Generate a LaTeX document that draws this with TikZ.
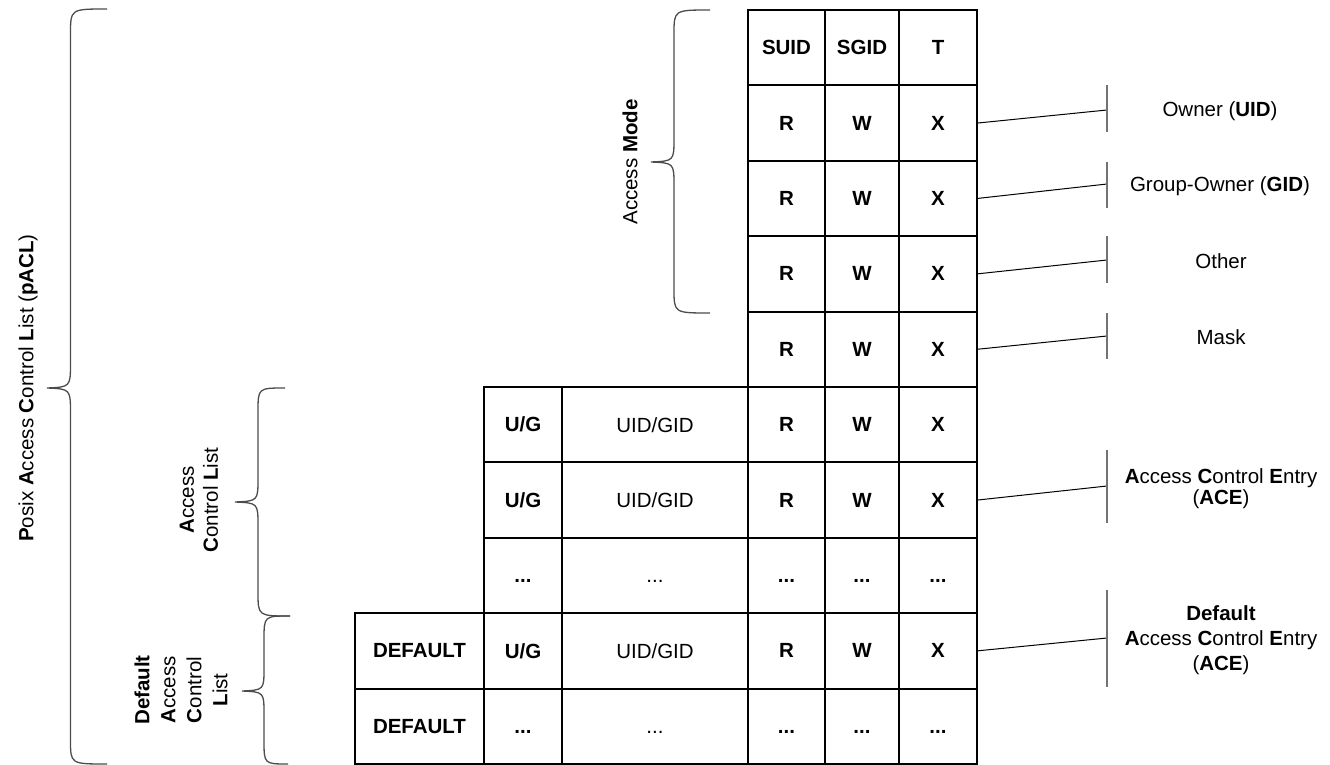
\documentclass[tikz,border=0pt]{standalone}
\usepackage{fontspec}
\setmainfont{Liberation Sans}
\newcommand\tdots{\vphantom{R}...}
\begin{document}
\begin{tikzpicture}[x=1pt,y=-1pt,
  cell/.style={draw, line width=2pt, inner sep=0pt, outer sep=0pt,
    minimum height=75.4pt, font=\fontsize{20.5}{24}\selectfont\bfseries},
  normtxt/.style={font=\fontsize{20.5}{24}\selectfont},
  cD/.style={minimum width=129pt},
  cU/.style={minimum width=78pt},
  cI/.style={minimum width=186pt},
  cR/.style={minimum width=77pt},
  cW/.style={minimum width=74pt},
  cX/.style={minimum width=78pt},
  conn/.style={line width=1pt, black},
  tickline/.style={line width=1.4pt, black!55},
  bracepath/.style={line width=1.3pt, black!70},
  lab/.style={inner sep=0pt, align=center, font=\fontsize{20.5}{24}\selectfont},
]
\useasboundingbox (0,0) rectangle (1330,765);

% R W X columns
\foreach \r/\a/\b/\c in {0/SUID/SGID/T, 1/R/W/X, 2/R/W/X, 3/R/W/X, 4/R/W/X,
   5/R/W/X, 6/R/W/X, 7/\tdots/\tdots/\tdots, 8/R/W/X, 9/\tdots/\tdots/\tdots} {
  \node[cell,cR] (R\r) at (786.5,{10+75.4*(\r+0.5)}) {\a};
  \node[cell,cW] (W\r) at (862,{10+75.4*(\r+0.5)}) {\b};
  \node[cell,cX] (X\r) at (938,{10+75.4*(\r+0.5)}) {\c};
}
% U/G column
\node[cell,cU] (U5) at (523,{10+75.4*5.5}) {U/G};
\node[cell,cU] (U6) at (523,{10+75.4*6.5}) {U/G};
\node[cell,cU] (U7) at (523,{10+75.4*7.5}) {\tdots};
\node[cell,cU] (U8) at (523,{10+75.4*8.5}) {U/G};
\node[cell,cU] (U9) at (523,{10+75.4*9.5}) {\tdots};
% UID/GID column
\node[cell,cI,normtxt] (I5) at (655,{10+75.4*5.5}) {UID/GID};
\node[cell,cI,normtxt] (I6) at (655,{10+75.4*6.5}) {UID/GID};
\node[cell,cI,normtxt] (I7) at (655,{10+75.4*7.5}) {\tdots};
\node[cell,cI,normtxt] (I8) at (655,{10+75.4*8.5}) {UID/GID};
\node[cell,cI,normtxt] (I9) at (655,{10+75.4*9.5}) {\tdots};
% DEFAULT column
\node[cell,cD] (D8) at (419.5,{10+75.4*8.5}) {DEFAULT};
\node[cell,cD] (D9) at (419.5,{10+75.4*9.5}) {DEFAULT};

% connector end points and ticks
\coordinate (e1) at (1107,110);
\coordinate (e2) at (1107,184);
\coordinate (e3) at (1107,260);
\coordinate (e4) at (1107,336);
\coordinate (e6) at (1107,486);
\coordinate (e8) at (1107,638);
\draw[conn] (X1.east) -- (e1);
\draw[conn] (X2.east) -- (e2);
\draw[conn] (X3.east) -- (e3);
\draw[conn] (X4.east) -- (e4);
\draw[conn] (X6.east) -- (e6);
\draw[conn] (X8.east) -- (e8);
\draw[tickline] (1107,85) -- (1107,132);
\draw[tickline] (1107,162) -- (1107,208);
\draw[tickline] (1107,236) -- (1107,283);
\draw[tickline] (1107,313) -- (1107,359);
\draw[tickline] (1107,450) -- (1107,523);
\draw[tickline] (1107,590) -- (1107,687);

% right labels
\node[lab] (l1) at (1220,111) {Owner (\textbf{UID})};
\node[lab] (l2) at (1220,186) {Group-Owner (\textbf{GID})};
\node[lab] (l3) at (1221,261) {Other};
\node[lab] (l4) at (1221,337) {Mask};
\node[lab, font=\fontsize{20.5}{21}\selectfont] (l6) at (1221,489)
  {\textbf{A}ccess \textbf{C}ontrol \textbf{E}ntry\\(\textbf{ACE})};
\node[lab, font=\fontsize{20.5}{25}\selectfont] (l8) at (1221,640)
  {\textbf{Default}\\\textbf{A}ccess \textbf{C}ontrol \textbf{E}ntry\\(\textbf{ACE})};

% braces
\draw[bracepath] (107,9) .. controls (70.5,9) .. (70.5,34) -- (70.5,362)
  .. controls (70.5,387) .. (47,388) .. controls (70.5,389) .. (70.5,414)
  -- (70.5,740) .. controls (70.5,764) .. (107,764);
\draw[bracepath] (710,10) .. controls (674,10) .. (674,34) -- (674,138)
  .. controls (674,161) .. (651,162) .. controls (674,163) .. (674,186)
  -- (674,289) .. controls (674,313) .. (710,313);
\draw[bracepath] (285,388) .. controls (258,388) .. (258,412) -- (258,478)
  .. controls (258,501) .. (235,502) .. controls (258,503) .. (258,526)
  -- (258,592) .. controls (258,616) .. (290,616);
\draw[bracepath] (290,616) .. controls (264,616) .. (264,640) -- (264,668)
  .. controls (264,690) .. (242,691) .. controls (264,692) .. (264,714)
  -- (264,740) .. controls (264,764) .. (288,764);

% left labels
\node[lab, rotate=90] (pacl) at (28,388)
  {\textbf{P}osix \textbf{A}ccess \textbf{C}ontrol \textbf{L}ist (\textbf{pACL})};
\node[lab, rotate=90] (amode) at (630,162) {Access \textbf{Mode}};
\node[lab, rotate=90, font=\fontsize{20.5}{24}\selectfont] (acl) at (199,500)
  {\textbf{A}ccess\\\textbf{C}ontrol \textbf{L}ist};
\node[lab, rotate=90, font=\fontsize{20.5}{26}\selectfont] (dacl) at (181,690)
  {\textbf{Default}\\\textbf{A}ccess\\\textbf{C}ontrol\\\textbf{L}ist};
\end{tikzpicture}
\end{document}
